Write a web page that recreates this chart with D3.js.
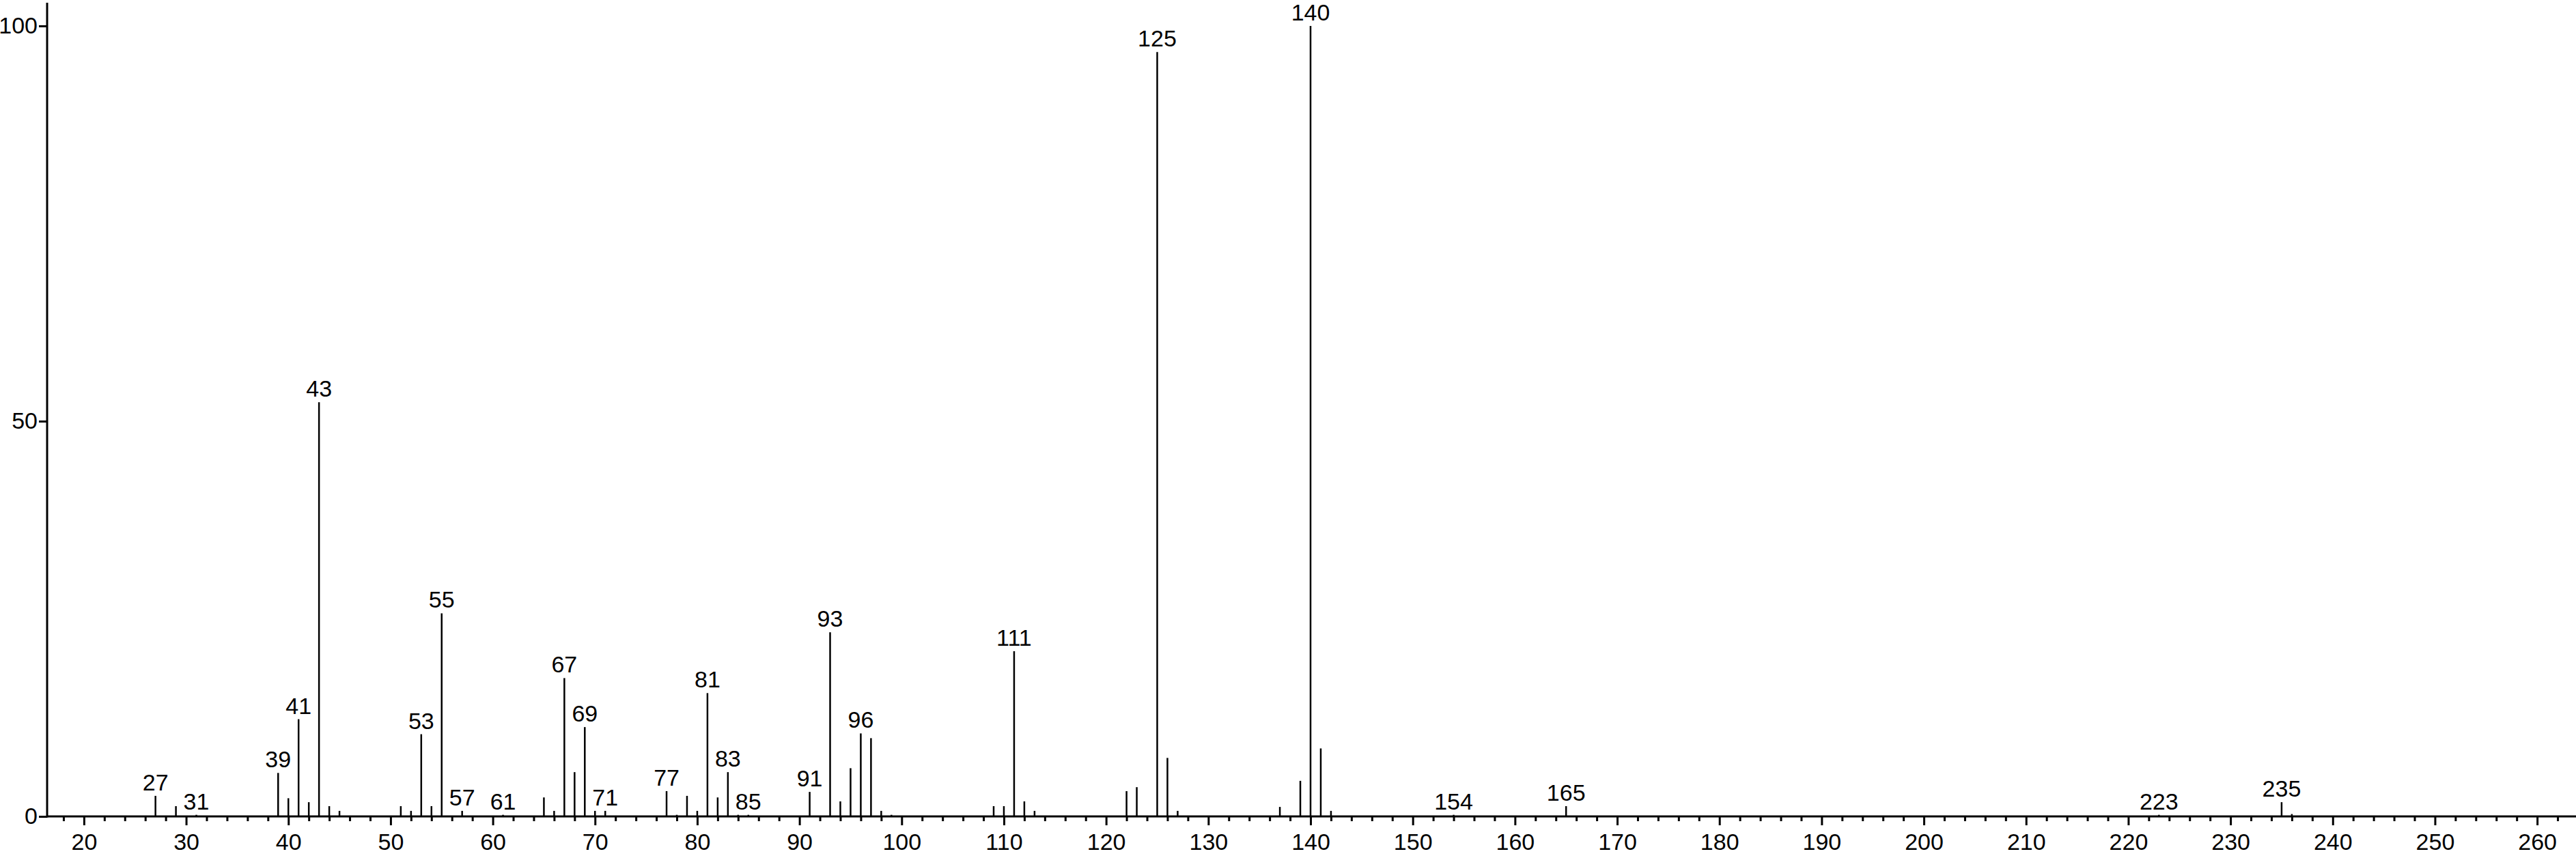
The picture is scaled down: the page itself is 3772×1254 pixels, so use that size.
<!DOCTYPE html>
<head>
  <meta charset="utf-8">
  <script src="https://d3js.org/d3.v7.min.js"></script>
  <style>
    body { margin: 0; background: #fff; }
    text { font-family: "Liberation Sans", Arial, sans-serif; fill: #000; }
  </style>
</head>
<body>
<svg width="3772" height="1254"></svg>
<script>

  // m/z values and relative intensities
  let mz = [27, 29, 31, 39, 40, 41, 42, 43, 44, 45, 51, 52, 53, 54, 55, 57, 61,
    65, 66, 67, 68, 69, 70, 71, 77, 78, 79, 80, 81, 82, 83, 84, 85,
    91, 93, 94, 95, 96, 97, 98, 99, 109, 110, 111, 112, 113,
    122, 123, 125, 126, 127, 137, 139, 140, 141, 142, 154, 165, 223, 235, 236];
  let intensity = [2.6, 1.3, 0.2, 5.5, 2.3, 12.3, 1.8, 52.4, 1.3, 0.7, 1.3, 0.7, 10.4, 1.3, 25.7, 0.7, 0.2,
    2.4, 0.7, 17.5, 5.6, 11.3, 0.7, 0.7, 3.2, 0.2, 2.6, 0.7, 15.6, 2.4, 5.6, 0.2, 0.2,
    3.1, 23.3, 1.9, 6.1, 10.5, 9.9, 0.7, 0.2, 1.3, 1.3, 20.9, 1.9, 0.7,
    3.2, 3.7, 96.7, 7.4, 0.7, 1.2, 4.5, 100, 8.6, 0.7, 0.2, 1.3, 0.2, 1.8, 0.3];
  let labelled = [27, 31, 39, 41, 43, 53, 55, 57, 61, 67, 69, 71, 77, 81, 83, 85,
    91, 93, 96, 111, 125, 140, 154, 165, 223, 235];
  let majorTicks = d3.range(20, 261, 10);
  let minorTicks = d3.range(18, 264, 2).filter(d => d % 10 !== 0);
  let yTicks = [0, 50, 100];

  let svg = d3.select("svg"),
    width = +svg.attr("width");

  let x = d3.scaleLinear().domain([16.4, 263.8]).range([69, width]);
  let y = d3.scaleLinear().domain([0, 100]).range([1196, 38]);

  let peaks = mz.map((m, i) => ({ mz: m, v: intensity[i] }));

  // minor ticks
  svg.append("g")
    .attr("transform", "translate(0," + y(0) + ")")
    .call(d3.axisBottom(x).tickValues(minorTicks).tickSize(7).tickFormat(""))
    .call(g => g.select(".domain").remove())
    .call(g => g.selectAll("line").attr("stroke-width", 3));

  // major ticks + labels
  svg.append("g")
    .attr("transform", "translate(0," + y(0) + ")")
    .call(d3.axisBottom(x).tickValues(majorTicks).tickSize(13).tickPadding(12))
    .call(g => g.select(".domain").remove())
    .call(g => g.selectAll("line").attr("stroke-width", 3))
    .call(g => g.selectAll("text").attr("font-size", 34).attr("font-family", "Liberation Sans"));

  // y axis
  svg.append("g")
    .attr("transform", "translate(" + x(16.4) + ",0)")
    .call(d3.axisLeft(y).tickValues(yTicks).tickSize(12).tickPadding(2))
    .call(g => g.select(".domain").remove())
    .call(g => g.selectAll("line").attr("stroke-width", 3))
    .call(g => g.selectAll("text").attr("font-size", 34).attr("font-family", "Liberation Sans"));

  svg.append("line")
    .attr("x1", x(16.4)).attr("x2", x(16.4))
    .attr("y1", 4).attr("y2", y(0) + 1.5)
    .attr("stroke", "#000").attr("stroke-width", 3);

  svg.append("line")
    .attr("x1", x(16.4)).attr("x2", width)
    .attr("y1", y(0)).attr("y2", y(0))
    .attr("stroke", "#000").attr("stroke-width", 3);

  // peaks
  svg.append("g").selectAll("line")
    .data(peaks)
    .join("line")
    .attr("x1", d => x(d.mz)).attr("x2", d => x(d.mz))
    .attr("y1", y(0)).attr("y2", d => y(d.v))
    .attr("stroke", "#000").attr("stroke-width", 2.5);

  svg.append("g").selectAll("text")
    .data(peaks.filter(d => labelled.includes(d.mz)))
    .join("text")
    .attr("x", d => x(d.mz))
    .attr("y", d => y(d.v) - 8)
    .attr("text-anchor", "middle")
    .attr("font-size", 34)
    .text(d => d.mz);

</script>
</body>
